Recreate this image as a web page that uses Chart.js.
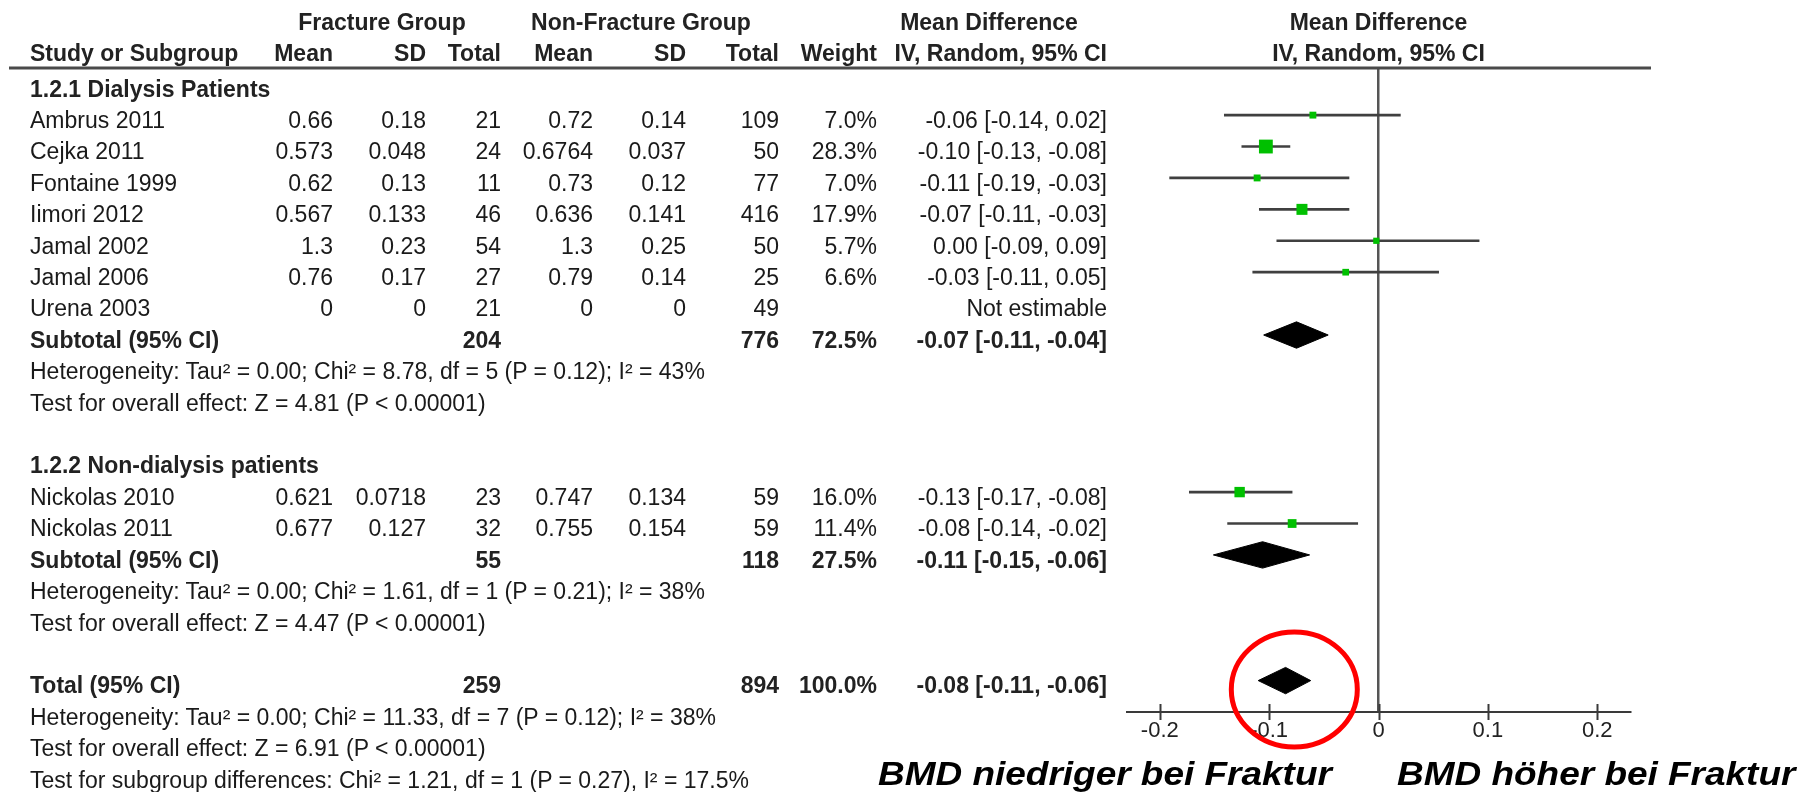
<!DOCTYPE html>
<html>
<head>
<meta charset="utf-8">
<script src="https://cdn.jsdelivr.net/npm/chart.js@4.4.1/dist/chart.umd.min.js"></script>
<style>
  body { margin: 0; background: #fff; }
  #wrap { position: relative; width: 1806px; height: 792px; overflow: hidden; }
  #chartCanvas { position: absolute; left: 0; top: 0; }
  .t { position: absolute; font: 23px "Liberation Sans", Arial, sans-serif; line-height: 23px; color: #1a1a1a; white-space: nowrap; }
  .b { font-weight: bold; color: #222; }
  .r { transform: translateX(-100%); }
  .c { transform: translateX(-50%); }
  .note { position: absolute; font: italic bold 33px "Liberation Sans", Arial, sans-serif; line-height: 33px; color: #000; white-space: nowrap; transform-origin: 0 0; transform: scaleX(1.12); }
</style>
</head>
<body>
<div id="wrap">
  <canvas id="chartCanvas" width="1806" height="792"></canvas>
  <div id="labels"></div>
</div>
<script>
//Studies and their table values
const studies = ['Ambrus 2011', 'Cejka 2011', 'Fontaine 1999', 'Iimori 2012', 'Jamal 2002', 'Jamal 2006', 'Urena 2003', 'Nickolas 2010', 'Nickolas 2011'];
const studyRows = [1, 2, 3, 4, 5, 6, 7, 13, 14];
const fracMean = ['0.66', '0.573', '0.62', '0.567', '1.3', '0.76', '0', '0.621', '0.677'];
const fracSD = ['0.18', '0.048', '0.13', '0.133', '0.23', '0.17', '0', '0.0718', '0.127'];
const fracTotal = [21, 24, 11, 46, 54, 27, 21, 23, 32];
const nonMean = ['0.72', '0.6764', '0.73', '0.636', '1.3', '0.79', '0', '0.747', '0.755'];
const nonSD = ['0.14', '0.037', '0.12', '0.141', '0.25', '0.14', '0', '0.134', '0.154'];
const nonTotal = [109, 50, 77, 416, 50, 25, 49, 59, 59];
const weights = [7.0, 28.3, 7.0, 17.9, 5.7, 6.6, null, 16.0, 11.4];
const ciText = ['-0.06 [-0.14, 0.02]', '-0.10 [-0.13, -0.08]', '-0.11 [-0.19, -0.03]', '-0.07 [-0.11, -0.03]', '0.00 [-0.09, 0.09]', '-0.03 [-0.11, 0.05]', 'Not estimable', '-0.13 [-0.17, -0.08]', '-0.08 [-0.14, -0.02]'];

//Plotted mean differences with 95% CI
const md = [-0.060, -0.103, -0.111, -0.070, -0.002, -0.030, null, -0.127, -0.079];
const ciLow = [-0.141, -0.125, -0.191, -0.109, -0.093, -0.115, null, -0.173, -0.138];
const ciHigh = [0.020, -0.081, -0.027, -0.027, 0.092, 0.055, null, -0.079, -0.019];

//Subtotals and total
const pooledNames = ['Subtotal (95% CI)', 'Subtotal (95% CI)', 'Total (95% CI)'];
const pooledRows = [8, 15, 19];
const pooledFracTotal = [204, 55, 259];
const pooledNonTotal = [776, 118, 894];
const pooledWeight = ['72.5%', '27.5%', '100.0%'];
const pooledCiText = ['-0.07 [-0.11, -0.04]', '-0.11 [-0.15, -0.06]', '-0.08 [-0.11, -0.06]'];
const pooledMd = [-0.075, -0.106, -0.085];
const pooledLow = [-0.105, -0.151, -0.110];
const pooledHigh = [-0.046, -0.063, -0.062];

//Group headers and statistics lines
const groupNames = ['1.2.1 Dialysis Patients', '1.2.2 Non-dialysis patients'];
const groupRows = [0, 12];
const noteRows = [9, 10, 16, 17, 20, 21, 22];
const noteTexts = [
    'Heterogeneity: Tau² = 0.00; Chi² = 8.78, df = 5 (P = 0.12); I² = 43%',
    'Test for overall effect: Z = 4.81 (P < 0.00001)',
    'Heterogeneity: Tau² = 0.00; Chi² = 1.61, df = 1 (P = 0.21); I² = 38%',
    'Test for overall effect: Z = 4.47 (P < 0.00001)',
    'Heterogeneity: Tau² = 0.00; Chi² = 11.33, df = 7 (P = 0.12); I² = 38%',
    'Test for overall effect: Z = 6.91 (P < 0.00001)',
    'Test for subgroup differences: Chi² = 1.21, df = 1 (P = 0.27), I² = 17.5%'
];

//Axis ticks
const tickValues = [-0.2, -0.1, 0, 0.1, 0.2];
const tickLabels = ['-0.2', '-0.1', '0', '0.1', '0.2'];

//Red highlight around the total
const highlight = { x: -0.077, row: 19.28, rx: 63, ry: 57.5 };

const DIAMOND_HALF = 0.42;
const FONT = '"Liberation Sans", Arial, sans-serif';

//CI whiskers as floating bars, point estimates as squares
const ciBars = [];
const points = [];
const pointSizes = [];
studies.forEach((s, i) => {
    if (md[i] === null) return;
    ciBars.push({ x: [ciLow[i], ciHigh[i]], y: studyRows[i] });
    points.push({ x: md[i], y: studyRows[i] });
    //square side grows with the square root of the weight
    pointSizes.push(2.6 * Math.sqrt(weights[i]) / Math.SQRT2);
});

function diamond(k) {
    const y = pooledRows[k];
    return [
        { x: pooledLow[k], y: y },
        { x: pooledMd[k], y: y - DIAMOND_HALF },
        { x: pooledHigh[k], y: y },
        { x: pooledMd[k], y: y + DIAMOND_HALF },
        { x: pooledLow[k], y: y }
    ];
}

const diamondSets = pooledRows.map((r, k) => ({
    type: 'line',
    data: diamond(k),
    borderColor: '#000',
    backgroundColor: '#000',
    borderWidth: 1,
    pointRadius: 0,
    fill: 'shape',
    tension: 0,
    order: 0
}));

//Header rule, crossing tick marks and the red ellipse
const decorations = {
    id: 'decorations',
    afterDraw(chart) {
        const { ctx, chartArea, scales: { x, y } } = chart;
        ctx.save();
        ctx.strokeStyle = '#4a4a4a';
        ctx.lineWidth = 3;
        ctx.beginPath();
        ctx.moveTo(9, chartArea.top);
        ctx.lineTo(chartArea.right + 21, chartArea.top);
        ctx.stroke();

        ctx.strokeStyle = '#3a3a3a';
        ctx.lineWidth = 2;
        tickValues.forEach(v => {
            const px = Math.round(x.getPixelForValue(v)) + 0.5;
            ctx.beginPath();
            ctx.moveTo(px, chartArea.bottom - 8);
            ctx.lineTo(px, chartArea.bottom + 8);
            ctx.stroke();
        });

        ctx.strokeStyle = '#ff0000';
        ctx.lineWidth = 5;
        ctx.beginPath();
        ctx.ellipse(x.getPixelForValue(highlight.x), y.getPixelForValue(highlight.row), highlight.rx, highlight.ry, 0, 0, Math.PI * 2);
        ctx.stroke();
        ctx.restore();
    }
};

const chart = new Chart(document.getElementById('chartCanvas'), {
    type: 'scatter',
    data: {
        datasets: [
            {
                type: 'scatter',
                data: points,
                pointStyle: 'rect',
                pointRadius: pointSizes,
                backgroundColor: '#00c000',
                borderWidth: 0,
                order: 0
            },
            {
                type: 'bar',
                indexAxis: 'y',
                data: ciBars,
                backgroundColor: '#404040',
                barThickness: 2,
                order: 1
            },
            ...diamondSets
        ]
    },
    options: {
        responsive: false,
        animation: false,
        events: [],
        layout: { padding: { left: 1127, right: 176, top: 68, bottom: 40 } },
        plugins: { legend: { display: false }, tooltip: { enabled: false } },
        scales: {
            x: {
                type: 'linear',
                min: -0.23,
                max: 0.23,
                offset: false,
                afterBuildTicks: s => { s.ticks = tickValues.map(v => ({ value: v })); },
                afterFit: s => { s.height = 40; },
                ticks: {
                    callback: (v, i) => tickLabels[i],
                    autoSkip: false,
                    maxRotation: 0,
                    padding: 6,
                    color: '#222',
                    font: { family: FONT, size: 22 }
                },
                grid: {
                    drawTicks: false,
                    color: c => (c.tick && c.tick.value === 0) ? '#555' : 'rgba(0,0,0,0)',
                    lineWidth: 2.5
                },
                border: { display: true, color: '#3a3a3a', width: 2 }
            },
            y: {
                type: 'linear',
                reverse: true,
                min: -0.5,
                max: 20,
                offset: false,
                display: false
            }
        }
    },
    plugins: [decorations]
});

//Table text, placed on the same row grid as the chart
const holder = document.getElementById('labels');
const yScale = chart.scales.y;
const xScale = chart.scales.x;
function rowBase(r) { return yScale.getPixelForValue(r) + 13.3; }
function addText(str, x, baseline, align, bold) {
    const d = document.createElement('div');
    d.className = 't' + (bold ? ' b' : '') + (align === 'right' ? ' r' : align === 'center' ? ' c' : '');
    d.textContent = str;
    d.style.left = x + 'px';
    d.style.top = (baseline - 19.5) + 'px';
    holder.appendChild(d);
}

const col = { study: 30, fMean: 333, fSD: 426, fN: 501, nMean: 593, nSD: 686, nN: 779, weight: 877, ci: 1107 };

//Headers
addText('Fracture Group', 382, 30.5, 'center', true);
addText('Non-Fracture Group', 641, 30.5, 'center', true);
addText('Mean Difference', 989, 30.5, 'center', true);
addText('Mean Difference', xScale.getPixelForValue(0), 30.5, 'center', true);
addText('Study or Subgroup', col.study, 61.5, 'left', true);
addText('Mean', col.fMean, 61.5, 'right', true);
addText('SD', col.fSD, 61.5, 'right', true);
addText('Total', col.fN, 61.5, 'right', true);
addText('Mean', col.nMean, 61.5, 'right', true);
addText('SD', col.nSD, 61.5, 'right', true);
addText('Total', col.nN, 61.5, 'right', true);
addText('Weight', col.weight, 61.5, 'right', true);
addText('IV, Random, 95% CI', col.ci, 61.5, 'right', true);
addText('IV, Random, 95% CI', xScale.getPixelForValue(0), 61.5, 'center', true);

groupNames.forEach((g, k) => addText(g, col.study, rowBase(groupRows[k]), 'left', true));

studies.forEach((s, i) => {
    const b = rowBase(studyRows[i]);
    addText(s, col.study, b, 'left', false);
    addText(fracMean[i], col.fMean, b, 'right', false);
    addText(fracSD[i], col.fSD, b, 'right', false);
    addText(String(fracTotal[i]), col.fN, b, 'right', false);
    addText(nonMean[i], col.nMean, b, 'right', false);
    addText(nonSD[i], col.nSD, b, 'right', false);
    addText(String(nonTotal[i]), col.nN, b, 'right', false);
    if (weights[i] !== null) addText(weights[i].toFixed(1) + '%', col.weight, b, 'right', false);
    addText(ciText[i], col.ci, b, 'right', false);
});

pooledNames.forEach((p, k) => {
    const b = rowBase(pooledRows[k]);
    addText(p, col.study, b, 'left', true);
    addText(String(pooledFracTotal[k]), col.fN, b, 'right', true);
    addText(String(pooledNonTotal[k]), col.nN, b, 'right', true);
    addText(pooledWeight[k], col.weight, b, 'right', true);
    addText(pooledCiText[k], col.ci, b, 'right', true);
});

noteTexts.forEach((n, k) => addText(n, col.study, rowBase(noteRows[k]), 'left', false));

//Direction labels under the axis
function addNote(str, x) {
    const d = document.createElement('div');
    d.className = 'note';
    d.textContent = str;
    d.style.left = x + 'px';
    d.style.top = '757px';
    holder.appendChild(d);
}
addNote('BMD niedriger bei Fraktur', 878);
addNote('BMD höher bei Fraktur', 1397);
</script>
</body>
</html>
